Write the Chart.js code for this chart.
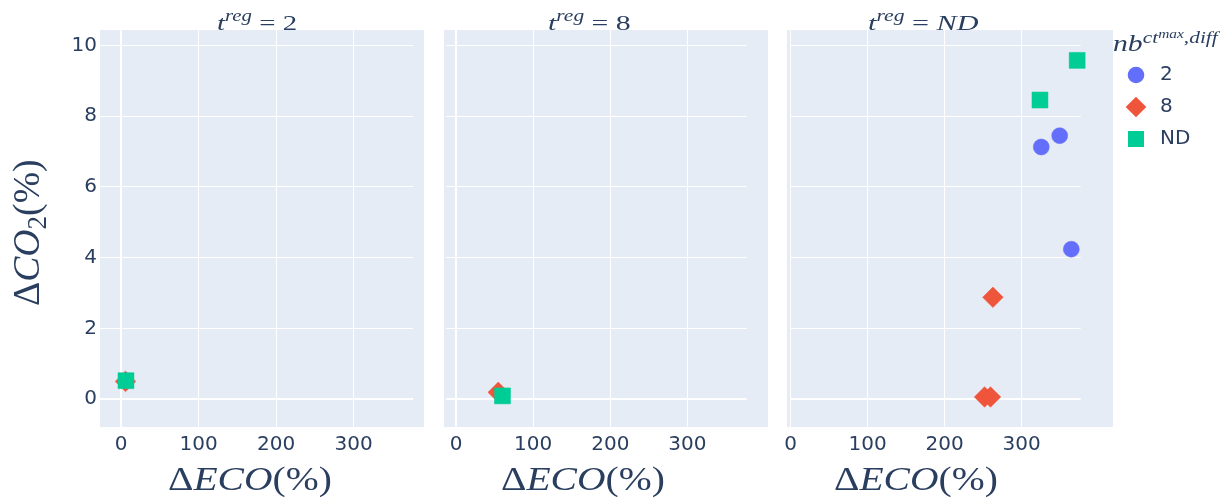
<!DOCTYPE html>
<html><head><meta charset="utf-8">
<script src="https://cdn.jsdelivr.net/npm/chart.js@4.4.1/dist/chart.umd.min.js"></script>
<style>
html,body{margin:0;padding:0;background:#fff;}
body{width:1226px;height:502px;overflow:hidden;position:relative;}
canvas{position:absolute;top:0;}
.m{position:absolute;white-space:nowrap;font-family:"Liberation Serif",serif;color:#2a3f5f;line-height:1;transform-origin:0 0;}
.m i{font-style:italic;}
.sp{position:relative;font-size:0.72em;}
</style></head><body>
<canvas id="c1" width="434" height="502" style="left:0px"></canvas>
<canvas id="c2" width="344" height="502" style="left:434px"></canvas>
<canvas id="c3" width="448" height="502" style="left:778px"></canvas>
<script>
// ---- data ----
const seriesNames = ['2', '8', 'ND'];
const panelNames = ['2', '8', 'ND'];
const xTicks = [0, 100, 200, 300];
const yTicks = [0, 2, 4, 6, 8, 10];
// panel t_reg = 2
const p1_8_x = [5.8];   const p1_8_y = [0.50];
const p1_ND_x = [6.4];  const p1_ND_y = [0.52];
// panel t_reg = 8
const p2_8_x = [54.7];  const p2_8_y = [0.19];
const p2_ND_x = [60.2]; const p2_ND_y = [0.09];
// panel t_reg = ND
const p3_2_x = [325.5, 349.4, 364.5]; const p3_2_y = [7.13, 7.45, 4.24];
const p3_8_x = [262.7, 251.9, 259.6]; const p3_8_y = [2.88, 0.06, 0.06];
const p3_ND_x = [372.1, 323.8];       const p3_ND_y = [9.58, 8.46];

const colors = ['#636efa', '#EF553B', '#00cc96'];
const styles = ['circle', 'rectRot', 'rect'];
const radii = [8, 10.3, 11.3];
const TXT = '#2a3f5f';
const FONT = {family: 'DejaVu Sans', size: 20};

function pts(xs, ys) { return xs.map((x, i) => ({x: x, y: ys[i]})); }
function ds(si, xs, ys) {
  return {
    label: seriesNames[si], data: pts(xs, ys), order: 3 - si, clip: false,
    pointStyle: styles[si], pointRadius: radii[si], pointHoverRadius: radii[si],
    backgroundColor: colors[si], borderColor: colors[si], pointBorderWidth: 0.5,
    showLine: false
  };
}

// legend icons
function icon(si) {
  const c = document.createElement('canvas');
  const s = si === 1 ? 22 : 18;
  c.width = s; c.height = s;
  const g = c.getContext('2d');
  g.fillStyle = colors[si];
  g.beginPath();
  if (si === 0) { g.arc(s/2, s/2, 8.3, 0, Math.PI*2); }
  else if (si === 1) { g.moveTo(s/2, 0.7); g.lineTo(s-0.7, s/2); g.lineTo(s/2, s-0.7); g.lineTo(0.7, s/2); g.closePath(); }
  else { g.rect(1, 1, 16, 16); }
  g.fill();
  return c;
}
const legendIcons = [icon(0), icon(1), icon(2)];

const Y_MIN = -0.79, Y_MAX = 10.44;

function makePanel(id, canvasLeft, cfg) {
  const bgPlugin = {
    id: 'bg' + id,
    beforeDraw(chart) {
      const ctx = chart.ctx;
      ctx.save();
      ctx.fillStyle = '#E5ECF6';
      ctx.fillRect(cfg.bgL - canvasLeft, 30, cfg.bgR - cfg.bgL, 397);
      ctx.restore();
    },
    afterInit(chart) {
      if (cfg.legend && chart.legend) {
        const lg = chart.legend;
        const of = lg.fit.bind(lg);
        lg.fit = function () { of(); this.width = cfg.legendW; };
      }
    },
    afterLayout(chart) {
      if (cfg.legend && chart.legend) {
        const lg = chart.legend;
        lg.left = cfg.legendLeft - canvasLeft;
        lg.right = lg.left + lg.width;
        lg.top = 53;
        lg.bottom = 427;
      }
    }
  };
  const yWidth = cfg.plotL - canvasLeft;
  return new Chart(document.getElementById(id), {
    type: 'scatter',
    data: {datasets: cfg.datasets},
    plugins: [bgPlugin],
    options: {
      responsive: false, animation: false, devicePixelRatio: 1, events: [],
      layout: {padding: {top: 30, left: 0, bottom: 0, right: cfg.padR}},
      plugins: {
        tooltip: {enabled: false},
        title: {display: false},
        legend: cfg.legend ? {
          display: true, position: 'right', align: 'start',
          labels: {
            font: FONT, color: TXT, usePointStyle: true, pointStyleWidth: 28, padding: 12,
            generateLabels: () => seriesNames.map((n, i) => ({
              text: n, fillStyle: colors[i], strokeStyle: colors[i], lineWidth: 0,
              pointStyle: legendIcons[i], hidden: false, datasetIndex: i, fontColor: TXT
            }))
          }
        } : {display: false}
      },
      scales: {
        x: {
          type: 'linear', min: cfg.xMin, max: cfg.xMax,
          afterFit(s) { s.height = 75; },
          afterBuildTicks(s) { s.ticks = xTicks.filter(v => v >= s.min && v <= s.max).map(v => ({value: v})); },
          ticks: {font: FONT, color: TXT, padding: 6, includeBounds: false, maxRotation: 0, autoSkip: false,
                  callback: v => String(v)},
          grid: {color: '#ffffff', drawTicks: false,
                 lineWidth: c => (c.tick && c.tick.value === 0 && cfg.zeroX) ? 2 : 1},
          border: {display: false}
        },
        y: {
          type: 'linear', min: Y_MIN, max: Y_MAX,
          afterFit(s) { s.width = yWidth; },
          afterBuildTicks(s) { s.ticks = yTicks.map(v => ({value: v})); },
          ticks: {display: cfg.yLabels, font: FONT, color: TXT, padding: 3, includeBounds: false, autoSkip: false,
                  callback: v => String(v)},
          grid: {color: '#ffffff', drawTicks: false,
                 lineWidth: c => (c.tick && c.tick.value === 0) ? 2 : 1},
          border: {display: false}
        }
      }
    }
  });
}

makePanel('c1', 0, {
  plotL: 100, bgL: 100, bgR: 424, padR: 434 - 413, xMin: -27.1, xMax: 376.5, yLabels: true, zeroX: true,
  datasets: [ds(1, p1_8_x, p1_8_y), ds(2, p1_ND_x, p1_ND_y)]
});
makePanel('c2', 434, {
  plotL: 444, bgL: 444, bgR: 768, padR: 778 - 746.7, xMin: -13.3, xMax: 376.8, yLabels: false, zeroX: true,
  datasets: [ds(1, p2_8_x, p2_8_y), ds(2, p2_ND_x, p2_ND_y)]
});
makePanel('c3', 778, {
  plotL: 786.8, bgL: 787, bgR: 1113, padR: 0, xMin: -1, xMax: 376.7, yLabels: false, zeroX: false,
  legend: true, legendW: 1226 - 1080.7, legendLeft: 1110,
  datasets: [ds(0, p3_2_x, p3_2_y), ds(1, p3_8_x, p3_8_y), ds(2, p3_ND_x, p3_ND_y)]
});

// ---- math-style text labels ----
function mathLabel(html, F, opts) {
  const el = document.createElement('div');
  el.className = 'm';
  el.style.fontSize = F + 'px';
  el.innerHTML = html;
  document.body.appendChild(el);
  const w = el.offsetWidth;
  const s = opts.w ? opts.w / w : 1;
  const asc = 0.8375 * F;
  if (opts.rot) {
    el.style.left = (opts.baseX - asc) + 'px';
    el.style.top = (opts.cy + w * s / 2) + 'px';
    el.style.transform = 'rotate(-90deg) scaleX(' + s + ')';
  } else {
    const left = opts.cx !== undefined ? opts.cx - w * s / 2 : opts.left;
    el.style.left = left + 'px';
    el.style.top = (opts.baseY - asc) + 'px';
    el.style.transform = 'scaleX(' + s + ')';
  }
}
const titleCenters = [257, 589.7, 923.5];
const titleWidths = [80, 82.7, 111];
panelNames.forEach((n, i) => {
  const val = n === 'ND' ? '<i>ND</i>' : n;
  mathLabel('<i>t</i><span class="sp" style="top:-0.55em"><i>reg</i></span> = ' + val, 22,
    {cx: titleCenters[i], baseY: 30, w: titleWidths[i]});
});
const xTitleCenters = [249.5, 582.5, 916];
xTitleCenters.forEach(cx => {
  mathLabel('Δ<i>ECO</i>(%)', 34, {cx: cx, baseY: 490, w: 164});
});
mathLabel('Δ<i>CO</i><span class="sp" style="top:0.25em">2</span>(%)', 38, {rot: true, baseX: 39.3, cy: 233, w: 146.7});
mathLabel('<i>nb</i><span class="sp" style="top:-0.5em"><i>ct</i><span class="sp" style="top:-0.45em"><i>max</i></span>,<i>diff</i></span>', 23,
  {left: 1113.3, baseY: 51.7, w: 104.7});
</script>
</body></html>
